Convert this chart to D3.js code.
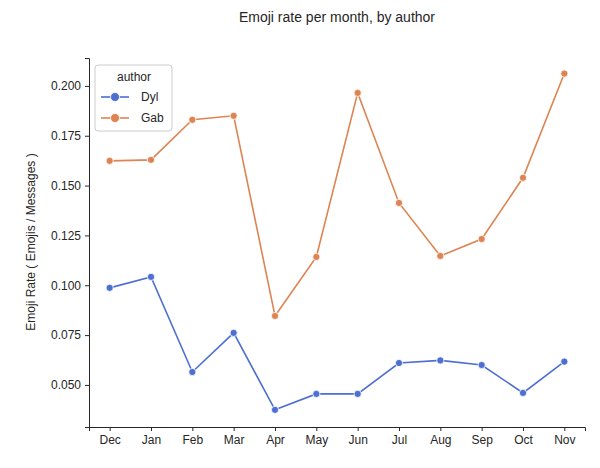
<!DOCTYPE html>
<html><head><meta charset="utf-8">
<script src="https://cdn.jsdelivr.net/npm/d3@7"></script>
<style>body{margin:0;background:#fff}text{font-family:Arial,"Liberation Sans",sans-serif;fill:#262626}</style>
</head><body><svg id="c" width="600" height="468"></svg>
<script>
const months = ["Dec","Jan","Feb","Mar","Apr","May","Jun","Jul","Aug","Sep","Oct","Nov"];
const dyl = [0.0987,0.1042,0.0565,0.0761,0.0375,0.0455,0.0455,0.0610,0.0623,0.0600,0.0460,0.0617];
const gab = [0.1624,0.1629,0.1830,0.1850,0.0846,0.1142,0.1965,0.1413,0.1147,0.1232,0.1539,0.2062];
const yTicks = [0.050,0.075,0.100,0.125,0.150,0.175,0.200];
const seriesNames = ["Dyl","Gab"];
const colors = ["#4c6fd1","#dd8452"];

const svg = d3.select("#c");
const L=89,R=585,T=58,B=427;
const x = d3.scalePoint().domain(months).range([L,R]).padding(0.5);
const y = d3.scaleLinear().domain([0.0289,0.214]).range([B,T]);

svg.append("g").attr("transform",`translate(0,${B})`)
  .call(d3.axisBottom(x).tickSize(4).tickPadding(4))
  .call(g=>{g.selectAll("text").style("font-size","12px");g.selectAll("line,path").attr("stroke","#262626");});
svg.append("g").attr("transform",`translate(${L},0)`)
  .call(d3.axisLeft(y).tickValues(yTicks).tickFormat(d3.format(".3f")).tickSize(4).tickPadding(4))
  .call(g=>{g.selectAll("text").style("font-size","12px");g.selectAll("line,path").attr("stroke","#262626");});

[dyl,gab].forEach((vals,i)=>{
  const line=d3.line().x((d,j)=>x(months[j])).y(d=>y(d));
  svg.append("path").datum(vals).attr("d",line).attr("fill","none").attr("stroke",colors[i]).attr("stroke-width",1.6);
  svg.selectAll(null).data(vals).enter().append("circle")
    .attr("cx",(d,j)=>x(months[j])).attr("cy",d=>y(d)).attr("r",3.6)
    .attr("fill",colors[i]).attr("stroke","#fff").attr("stroke-width",0.8);
});

svg.append("text").attr("x",337).attr("y",22).attr("text-anchor","middle").style("font-size","14px").text("Emoji rate per month, by author");
svg.append("text").attr("transform","translate(35,242) rotate(-90)").attr("text-anchor","middle").style("font-size","12px").text("Emoji Rate ( Emojis / Messages )");

const lg=svg.append("g");
lg.append("rect").attr("x",95).attr("y",65).attr("width",77).attr("height",66).attr("rx",3).attr("fill","#fff").attr("stroke","#ccc");
lg.append("text").attr("x",134).attr("y",81).attr("text-anchor","middle").style("font-size","12px").text("author");
seriesNames.forEach((n,i)=>{
  const yy=97+i*21;
  lg.append("line").attr("x1",101).attr("x2",129).attr("y1",yy).attr("y2",yy).attr("stroke",colors[i]).attr("stroke-width",1.6);
  lg.append("circle").attr("cx",115).attr("cy",yy).attr("r",4.5).attr("fill",colors[i]).attr("stroke","#fff").attr("stroke-width",0.8);
  lg.append("text").attr("x",141).attr("y",yy+4).style("font-size","12px").text(n);
});
</script></body></html>
